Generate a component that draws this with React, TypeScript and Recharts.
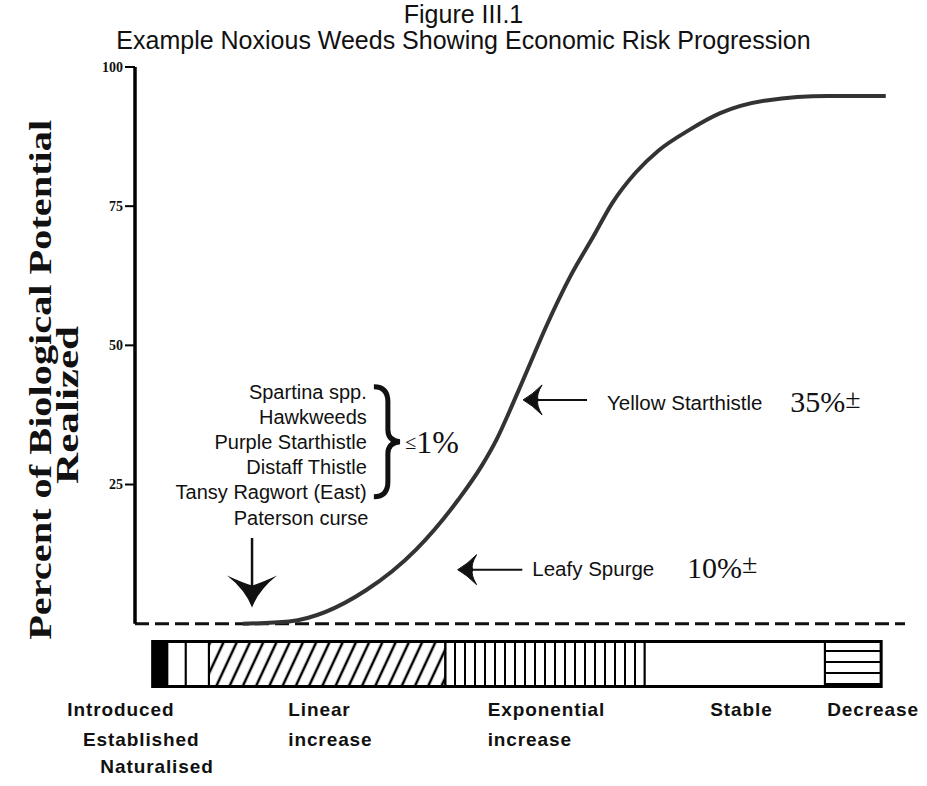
import React from "react";
import {
  ComposedChart,
  Line,
  XAxis,
  YAxis,
  ReferenceLine,
  ReferenceArea,
  ReferenceDot,
} from "recharts";

// S-curve: x = relative time (0-100), y = % of potential realized
const curveX = [14, 20, 30, 36.5, 42, 45, 47, 49, 51, 53.5, 56.5, 59.5, 62, 65, 68, 72, 76, 82, 90, 97.5];
const curveY = [0, 0.4, 6, 13.3, 22.3, 28.3, 33.2, 39.3, 45.7, 53.7, 62.3, 69.5, 75.6, 81, 85, 88.7, 91.7, 94, 94.8, 94.8];

const yTicks = [25, 50, 75, 100];

// stage bar under the baseline
const stageEdges = [2.3, 4.2, 6.6, 9.6, 40.3, 66.2, 89.6, 96.9];
const stageFills = ["#000", "#fff", "#fff", "url(#hatch)", "url(#vlines)", "#fff", "url(#hlines)"];
const stageNames = ["Introduced", "Established", "Naturalised", "Linear", "increase", "Exponential", "increase", "Stable", "Decrease"];

const lowSpecies = ["Spartina spp.", "Hawkweeds", "Purple Starthistle", "Distaff Thistle", "Tansy Ragwort (East)"];
const yTitle = ["Percent of Biological Potential", "Realized"];

const data = curveX.map((x, i) => ({ x, y: curveY[i] }));

const SANS = "'Liberation Sans', Arial, sans-serif";
const SERIF = "'Liberation Serif', 'Times New Roman', serif";

type TextOpts = { anchor?: string; size?: number; family?: string; weight?: string; spacing?: number };

const textShape = (content: React.ReactNode, o: TextOpts = {}) => (p: any) => (
  <text
    x={p.cx}
    y={p.cy}
    dominantBaseline="central"
    textAnchor={o.anchor || "start"}
    fontFamily={o.family || SANS}
    fontSize={o.size || 20}
    fontWeight={o.weight || "normal"}
    letterSpacing={o.spacing || 0}
    fill="#111"
  >
    {content}
  </text>
);

const leftHead = (p: any) => {
  const { cx, cy } = p;
  return (
    <path
      d={`M${cx},${cy} Q${cx + 9},${cy - 5} ${cx + 19},${cy - 15} Q${cx + 13},${cy - 5} ${cx + 15},${cy} Q${cx + 13},${cy + 5} ${cx + 19},${cy + 15} Q${cx + 9},${cy + 5} ${cx},${cy} Z`}
      fill="#111"
      stroke="#111"
      strokeWidth={1}
    />
  );
};

const downHead = (p: any) => {
  const { cx, cy } = p;
  return (
    <path
      d={`M${cx},${cy} Q${cx - 7},${cy - 18} ${cx - 25},${cy - 32} Q${cx - 10},${cy - 25} ${cx},${cy - 22} Q${cx + 10},${cy - 25} ${cx + 25},${cy - 32} Q${cx + 7},${cy - 18} ${cx},${cy} Z`}
      fill="#111"
    />
  );
};

const brace = (p: any) => {
  const { cx, cy } = p;
  return (
    <path
      d={`M${cx - 26},${cy - 55} Q${cx - 12},${cy - 55} ${cx - 12},${cy - 40} L${cx - 12},${cy - 12} Q${cx - 12},${cy - 1} ${cx},${cy} Q${cx - 12},${cy + 1} ${cx - 12},${cy + 12} L${cx - 12},${cy + 40} Q${cx - 12},${cy + 55} ${cx - 26},${cy + 55}`}
      fill="none"
      stroke="#111"
      strokeWidth={5}
    />
  );
};

const yTitleShape = (text: string, len: number) => (p: any) => (
  <text
    x={p.cx}
    y={p.cy}
    transform={`rotate(-90 ${p.cx} ${p.cy})`}
    textAnchor="middle"
    dominantBaseline="central"
    fontFamily={SERIF}
    fontWeight="bold"
    fontSize={31}
    textLength={len}
    lengthAdjust="spacingAndGlyphs"
    fill="#111"
  >
    {text}
  </text>
);

const pct = (n: string) => (
  <>
    {n}
    <tspan fontSize={28} dy={-4}>±</tspan>
  </>
);

export default function App() {
  // anchors for the stage names below the bar (data units)
  const stagePos = [
    [-8.8, -15.4], [-6.75, -20.8], [-4.5, -25.7],
    [19.9, -15.4], [19.9, -20.8],
    [45.8, -15.4], [45.8, -20.8],
    [74.7, -15.4], [89.9, -15.4],
  ];

  return (
    <div style={{ position: "absolute", left: 0, top: 0, width: 927, height: 786, background: "#fff" }}>
      <ComposedChart width={927} height={786} data={data} margin={{ top: 67, right: 22, bottom: 12, left: 75 }}>
        <defs>
          <pattern id="hatch" patternUnits="userSpaceOnUse" width={12} height={12} patternTransform="rotate(25)">
            <line x1={6} y1={0} x2={6} y2={12} stroke="#000" strokeWidth={2.5} />
          </pattern>
          <pattern id="vlines" patternUnits="userSpaceOnUse" width={10} height={10}>
            <line x1={5} y1={0} x2={5} y2={10} stroke="#000" strokeWidth={2} />
          </pattern>
          <pattern id="hlines" patternUnits="userSpaceOnUse" width={10} height={11} y={-3}>
            <line x1={0} y1={5} x2={10} y2={5} stroke="#000" strokeWidth={2} />
          </pattern>
        </defs>
        <XAxis dataKey="x" type="number" domain={[0, 100]} hide />
        <YAxis
          type="number"
          domain={[-27, 100]}
          ticks={yTicks}
          interval={0}
          axisLine={false}
          tickLine={{ stroke: "#000", strokeWidth: 2 }}
          tickSize={10}
          width={60}
          tick={{ fontFamily: SERIF, fontSize: 14, fontWeight: "bold", fill: "#111" }}
        />

        {/* stage bar */}
        {stageFills.map((f, i) => (
          <ReferenceArea
            key={i}
            x1={stageEdges[i]}
            x2={stageEdges[i + 1]}
            y1={-11.3}
            y2={-3.2}
            fill={f}
            fillOpacity={1}
            stroke="#000"
            strokeWidth={2}
          />
        ))}
        <ReferenceArea
          x1={stageEdges[0]}
          x2={stageEdges[stageEdges.length - 1]}
          y1={-11.3}
          y2={-3.2}
          fill="none"
          stroke="#000"
          strokeWidth={3}
        />
        {stageNames.map((s, i) => (
          <ReferenceDot
            key={"s" + i}
            x={stagePos[i][0]}
            y={stagePos[i][1]}
            r={0}
            ifOverflow="visible"
            shape={textShape(s, { size: 19, weight: "bold", spacing: 0.9 })}
          />
        ))}

        {/* axis and baseline */}
        <ReferenceLine y={0} stroke="#111" strokeWidth={3} strokeDasharray="14 6" />
        <ReferenceLine segment={[{ x: 0, y: 0 }, { x: 0, y: 100 }]} stroke="#000" strokeWidth={3.5} />

        <Line
          type="monotone"
          dataKey="y"
          stroke="#333"
          strokeWidth={4}
          dot={false}
          isAnimationActive={false}
        />

        {/* y title */}
        <ReferenceDot x={-12.3} y={43.8} r={0} ifOverflow="visible" shape={yTitleShape(yTitle[0], 520)} />
        <ReferenceDot x={-8.8} y={39.3} r={0} ifOverflow="visible" shape={yTitleShape(yTitle[1], 158)} />

        {/* <=1% group */}
        <ReferenceDot
          x={30.1}
          y={41.7}
          r={0}
          shape={(p: any) => (
            <text x={p.cx} y={p.cy} textAnchor="end" dominantBaseline="central" fontFamily={SANS} fontSize={20} fill="#111">
              {lowSpecies.map((s, i) => (
                <tspan key={s} x={p.cx} dy={i === 0 ? 0 : 25}>{s}</tspan>
              ))}
            </text>
          )}
        />
        <ReferenceDot x={34.4} y={32.7} r={0} shape={brace} />
        <ReferenceDot
          x={35.1}
          y={32.7}
          r={0}
          shape={textShape(
            <>
              <tspan fontSize={20}>≤</tspan>
              <tspan fontSize={32}>1%</tspan>
            </>,
            { family: SERIF }
          )}
        />

        {/* Paterson curse */}
        <ReferenceDot x={30.3} y={19} r={0} shape={textShape("Paterson curse", { anchor: "end" })} />
        <ReferenceLine segment={[{ x: 15.2, y: 15.4 }, { x: 15.2, y: 6.5 }]} stroke="#111" strokeWidth={2.5} />
        <ReferenceDot x={15.2} y={2.9} r={0} shape={downHead} />

        {/* Yellow Starthistle */}
        <ReferenceLine segment={[{ x: 51.6, y: 40.2 }, { x: 58.7, y: 40.2 }]} stroke="#111" strokeWidth={2} />
        <ReferenceDot x={50.4} y={40.2} r={0} shape={leftHead} />
        <ReferenceDot x={61.3} y={39.7} r={0} shape={textShape("Yellow Starthistle", { size: 20.5 })} />
        <ReferenceDot x={85.1} y={39.9} r={0} shape={textShape(pct("35%"), { family: SERIF, size: 30 })} />

        {/* Leafy Spurge */}
        <ReferenceLine segment={[{ x: 43.1, y: 9.7 }, { x: 50.3, y: 9.7 }]} stroke="#111" strokeWidth={2} />
        <ReferenceDot x={41.9} y={9.7} r={0} shape={leftHead} />
        <ReferenceDot x={51.6} y={9.9} r={0} shape={textShape("Leafy Spurge", { size: 20.5 })} />
        <ReferenceDot x={71.7} y={10.1} r={0} shape={textShape(pct("10%"), { family: SERIF, size: 30 })} />
      </ComposedChart>
      <div
        style={{
          position: "absolute",
          left: 0,
          top: 1,
          width: 927,
          textAlign: "center",
          fontFamily: SANS,
          fontSize: 25,
          lineHeight: "26px",
          color: "#111",
          pointerEvents: "none",
        }}
      >
        Figure III.1
        <br />
        Example Noxious Weeds Showing Economic Risk Progression
      </div>
    </div>
  );
}
